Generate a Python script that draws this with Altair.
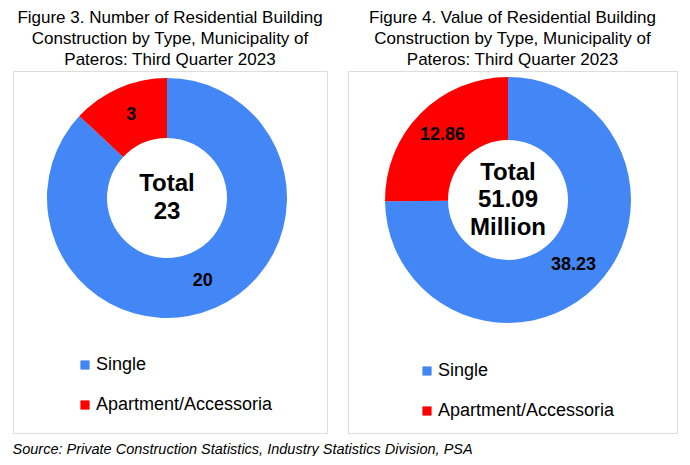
import altair as alt
import pandas as pd

types = ["Single", "Apartment/Accessoria"]
counts = [20, 3]
values = [38.23, 12.86]
colors = ["#4287F5", "#FF0000"]
count_labels = ["20", "3"]
value_labels = ["38.23", "12.86"]
title_left = ["Figure 3. Number of Residential Building",
              "Construction by Type, Municipality of",
              "Pateros: Third Quarter 2023"]
title_right = ["Figure 4. Value of Residential Building",
               "Construction by Type, Municipality of",
               "Pateros: Third Quarter 2023"]
center_left = ["Total", "23"]
center_right = ["Total", "51.09", "Million"]
source = "Source: Private Construction Statistics, Industry Statistics Division, PSA"

FONT = "Liberation Sans"
LINE_H = 27.5


def donut(vals, labels, center, title, w, h, cx, cy, r_out, r_in, r_lab, lx, ly):
    df = pd.DataFrame({"type": types, "value": vals, "label": labels, "order": [0, 1]})
    base = alt.Chart(df).encode(
        theta=alt.Theta("value:Q", stack=True),
        order=alt.Order("order:Q"),
    )
    color = alt.Color(
        "type:N",
        scale=alt.Scale(domain=types, range=colors),
        sort=types,
        legend=alt.Legend(
            title=None, orient="none", legendX=lx, legendY=ly,
            symbolType="square", symbolSize=85, symbolStrokeWidth=0,
            labelFont=FONT, labelFontSize=18, labelColor="black",
            labelLimit=400, rowPadding=22, labelOffset=2,
        ),
    )
    arc = base.mark_arc(radius=r_out, radius2=r_in).encode(
        color=color, x=alt.value(cx), y=alt.value(cy)
    )
    txt = base.mark_text(
        radius=r_lab, font=FONT, fontSize=18, fontWeight="bold", color="black"
    ).encode(text="label:N", x=alt.value(cx), y=alt.value(cy))
    cdf = pd.DataFrame({"t": ["\n".join(center)]})
    ctr = alt.Chart(cdf).mark_text(
        lineBreak="\n", font=FONT, fontSize=24, fontWeight="bold",
        lineHeight=LINE_H, baseline="middle", color="black",
        dy=-(len(center) - 1) * LINE_H / 2,
    ).encode(text="t:N", x=alt.value(cx), y=alt.value(cy))
    return alt.layer(arc, txt, ctr).properties(
        width=w, height=h,
        title=alt.TitleParams(
            title, font=FONT, fontSize=17, fontWeight="normal", color="black",
            lineHeight=21, offset=2, anchor="middle",
        ),
    )


left = donut(counts, count_labels, center_left, title_left,
             314, 362, 154, 127, 120, 60, 90, 63, 285)
right = donut(values, value_labels, center_right, title_right,
              329, 362, 160, 129, 123, 60, 92, 70, 291)

chart = alt.hconcat(left, right, spacing=19).resolve_scale(
    color="independent", theta="independent"
).properties(
    padding={"left": 4, "top": 0, "right": 0, "bottom": 0},
    title=alt.TitleParams(
        source, orient="bottom", anchor="start", font=FONT,
        fontSize=14.5, fontStyle="italic", fontWeight="normal", color="black",
        offset=9,
    ),
).configure_view(stroke="black", strokeWidth=1).configure(background="white")

chart.save("out.html", embed_options={"renderer": "svg", "actions": False})
